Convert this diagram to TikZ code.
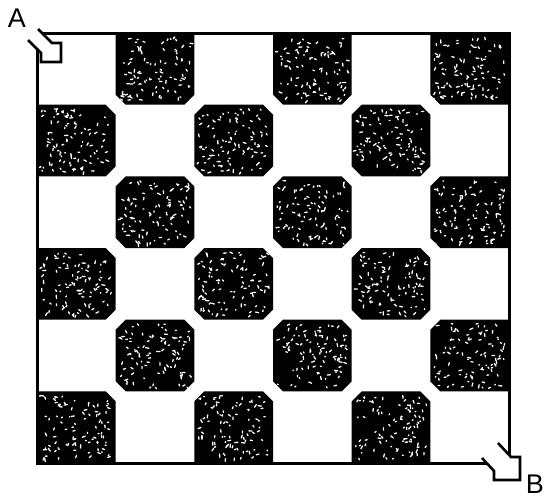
\documentclass[tikz,border=0pt]{standalone}
\usepackage{fontspec}
\setmainfont{Liberation Sans}
\tikzset{
  frameline/.style={line width=3pt, line join=miter},
  arrowline/.style={line width=2.6pt, line join=miter},
  speck/.style={white, line width=1.3pt, line cap=round},
  letter/.style={font=\fontsize{27}{27}\selectfont, inner sep=0pt}
}
\begin{document}
\begin{tikzpicture}[x=1pt,y=-1pt]
\useasboundingbox (0,0) rectangle (544,498);
\pgfmathsetseed{11}
% black chamfered cells
\foreach \r in {0,...,5}{
  \foreach \c in {0,...,5}{
    \pgfmathtruncatemacro\odd{mod(\r+\c,2)}
    \ifnum\odd=1
      \pgfmathsetmacro\xa{37+\c*78.67}
      \pgfmathsetmacro\xb{\xa+78.67}
      \pgfmathsetmacro\ya{33+\r*71.67}
      \pgfmathsetmacro\yb{\ya+71.67}
      \pgfmathsetmacro\ctl{(\c>0)*(\r>0)*10}
      \pgfmathsetmacro\ctr{(\c<5)*(\r>0)*10}
      \pgfmathsetmacro\cbr{(\c<5)*(\r<5)*10}
      \pgfmathsetmacro\cbl{(\c>0)*(\r<5)*10}
      \def\cellpath{(\xa+\ctl,\ya) -- (\xb-\ctr,\ya) -- (\xb,\ya+\ctr)
          -- (\xb,\yb-\cbr) -- (\xb-\cbr,\yb) -- (\xa+\cbl,\yb)
          -- (\xa,\yb-\cbl) -- (\xa,\ya+\ctl) -- cycle}
      \fill[black] \cellpath;
      \begin{scope}
        \clip \cellpath;
        \foreach \k in {1,...,95}{
          \draw[speck] ({\xa+4+rnd*70.67},{\ya+4+rnd*63.67}) -- ++({rnd*180}:{0.6+rnd*2.8});
        }
      \end{scope}
    \fi
  }
}
% frame
\draw[frameline] (37,33) rectangle (509,463);
% arrow A
\path[fill=white] (38,29) -- (52,43) -- (61,43) -- (61,62) -- (41,62) -- (41,53) -- (28,40) -- cycle;
\draw[arrowline] (38,29) -- (52,43) -- (61,43) -- (61,62) -- (41,62) -- (41,53) -- (28,40);
% arrow B
\path[fill=white] (498,443) -- (511,457) -- (520,457) -- (520,480) -- (494,480) -- (494,471) -- (482,458) -- cycle;
\draw[arrowline] (498,443) -- (511,457) -- (520,457) -- (520,480) -- (494,480) -- (494,471) -- (482,458);
% labels
\node[letter] (labelA) at (17,18) {A};
\node[letter] (labelB) at (535,484) {B};
\end{tikzpicture}
\end{document}
